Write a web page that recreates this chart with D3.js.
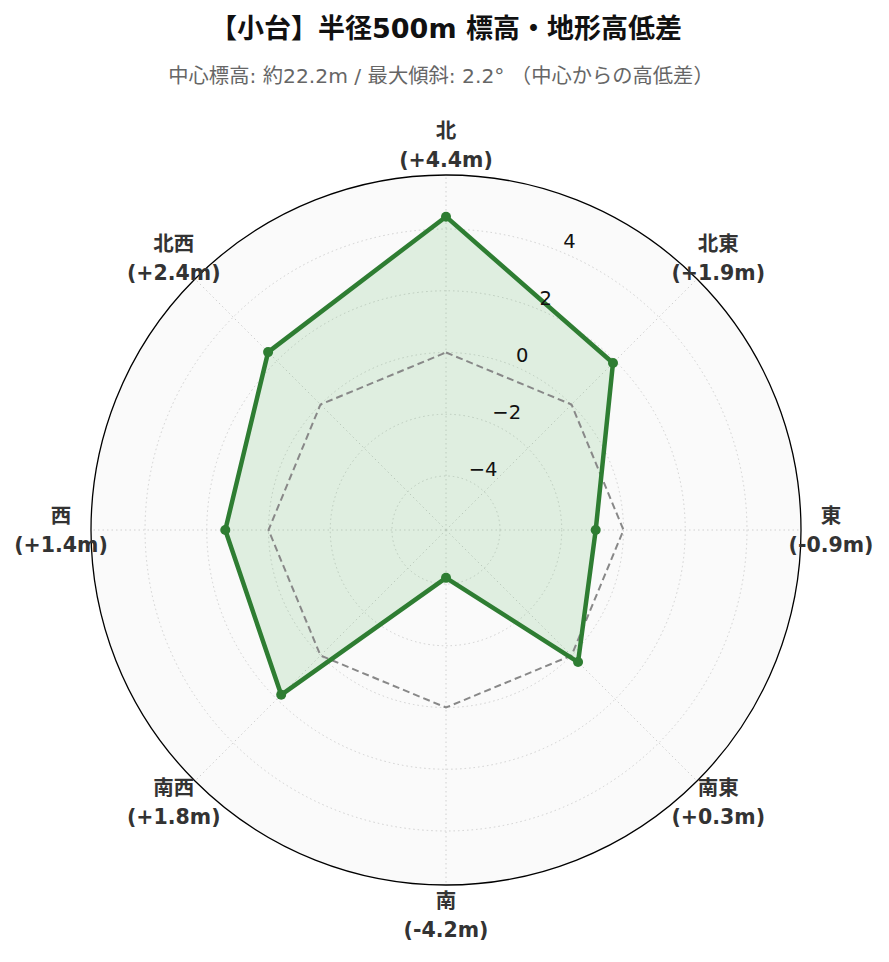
<!DOCTYPE html>
<html>
<head>
<meta charset="utf-8">
<script src="https://cdn.jsdelivr.net/npm/d3@7"></script>
<style>
  html, body { margin: 0; padding: 0; background: #ffffff; }
  svg { display: block; }
</style>
</head>
<body>
<svg id="chart" width="889" height="962"></svg>
<script>
const titleText = "【小台】半径500m 標高・地形高低差";
const subtitleText = "中心標高: 約22.2m / 最大傾斜: 2.2° （中心からの高低差）";
const directions = ["北", "北東", "東", "南東", "南", "南西", "西", "北西"];
const diffValues = [4.4, 1.9, -0.9, 0.3, -4.2, 1.8, 1.4, 2.4];
const radialTicks = [-4, -2, 0, 2, 4];
const radialDomain = [-5.75, 5.75];

const svg = d3.select("#chart");
const cx = 446, cy = 530, R = 355;
const fam = "'DejaVu Sans', 'Noto Sans CJK JP', sans-serif";

svg.append("text").attr("x", 446).attr("y", 38).attr("text-anchor", "middle")
  .attr("font-family", fam).attr("font-weight", "bold").attr("font-size", 27)
  .attr("fill", "#111").text(titleText);
svg.append("text").attr("x", 441).attr("y", 83).attr("text-anchor", "middle")
  .attr("font-family", fam).attr("font-size", 20.3)
  .attr("fill", "#666").text(subtitleText);

const r = d3.scaleLinear().domain(radialDomain).range([0, R]);
const angle = d3.scalePoint().domain(directions).range([0, 2 * Math.PI * 7 / 8]);
const pt = (a, rad) => [cx + rad * Math.sin(a), cy - rad * Math.cos(a)];

const g = svg.append("g");
g.append("circle").attr("cx", cx).attr("cy", cy).attr("r", R).attr("fill", "#fafafa");

g.selectAll("circle.grid").data(radialTicks).join("circle").attr("class", "grid")
  .attr("cx", cx).attr("cy", cy).attr("r", d => r(d))
  .attr("fill", "none").attr("stroke", "#d0d0d0").attr("stroke-width", 1)
  .attr("stroke-dasharray", "1.5,3");
g.selectAll("line.spoke").data(directions).join("line").attr("class", "spoke")
  .attr("x1", cx).attr("y1", cy)
  .attr("x2", d => pt(angle(d), R)[0]).attr("y2", d => pt(angle(d), R)[1])
  .attr("stroke", "#d0d0d0").attr("stroke-width", 1).attr("stroke-dasharray", "1.5,3");

const radial = d3.lineRadial().angle(d => angle(d.dir)).radius(d => r(d.v)).curve(d3.curveLinearClosed);
const data = directions.map((d, i) => ({ dir: d, v: diffValues[i] }));
const zero = directions.map(d => ({ dir: d, v: 0 }));

const plot = g.append("g").attr("transform", `translate(${cx},${cy})`);
plot.append("path").datum(data).attr("d", radial)
  .attr("fill", "rgba(76,175,80,0.15)").attr("stroke", "none");
plot.append("path").datum(zero).attr("d", radial)
  .attr("fill", "none").attr("stroke", "#888").attr("stroke-width", 2)
  .attr("stroke-dasharray", "7,4");
plot.append("path").datum(data).attr("d", radial)
  .attr("fill", "none").attr("stroke", "#2e7d32").attr("stroke-width", 4.5)
  .attr("stroke-linejoin", "round");
plot.selectAll("circle.pt").data(data).join("circle").attr("class", "pt")
  .attr("cx", d => r(d.v) * Math.sin(angle(d.dir)))
  .attr("cy", d => -r(d.v) * Math.cos(angle(d.dir)))
  .attr("r", 5).attr("fill", "#2e7d32");

g.append("circle").attr("cx", cx).attr("cy", cy).attr("r", R)
  .attr("fill", "none").attr("stroke", "#000").attr("stroke-width", 1.3);

const la = Math.PI / 8;
g.selectAll("text.rt").data(radialTicks).join("text").attr("class", "rt")
  .attr("x", d => pt(la, r(d))[0] + 2).attr("y", d => pt(la, r(d))[1] - 4)
  .attr("font-family", fam).attr("font-size", 19.5).attr("fill", "#111")
  .text(d => d < 0 ? "\u2212" + Math.abs(d) : String(d));

const fmt = v => "(" + (v >= 0 ? "+" : "-") + Math.abs(v).toFixed(1) + "m)";
const lab = g.selectAll("g.lab").data(data).join("g").attr("class", "lab")
  .attr("transform", d => { const p = pt(angle(d.dir), 385); return `translate(${p[0]},${p[1]})`; });
lab.append("text").attr("y", -7).attr("text-anchor", "middle")
  .attr("font-family", fam).attr("font-weight", "bold").attr("font-size", 20.5).attr("fill", "#333")
  .text(d => d.dir);
lab.append("text").attr("y", 22).attr("text-anchor", "middle")
  .attr("font-family", fam).attr("font-weight", "bold").attr("font-size", 20.5).attr("fill", "#333")
  .text(d => fmt(d.v));
</script>
</body>
</html>
